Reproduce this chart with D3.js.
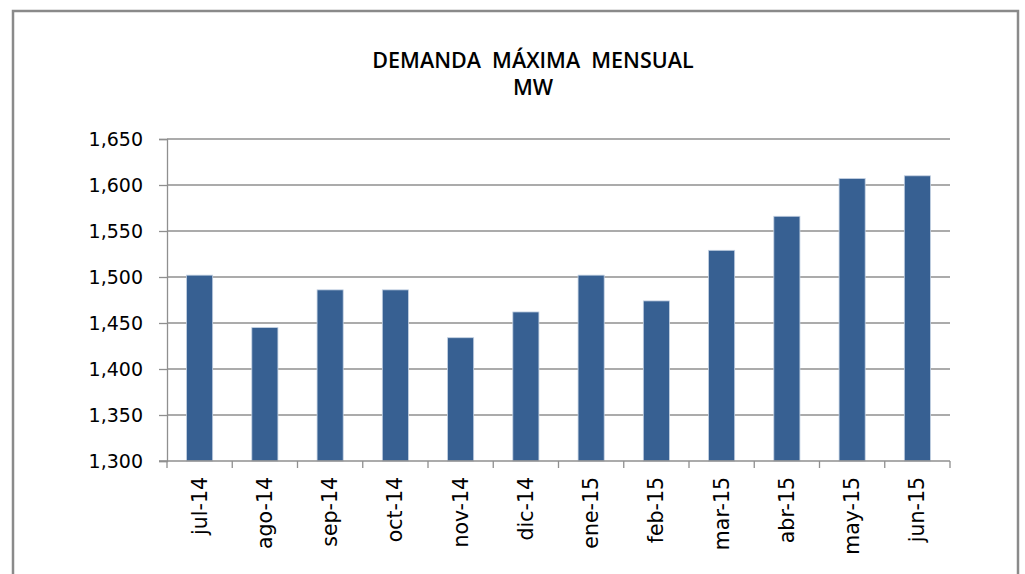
<!DOCTYPE html>
<html>
<head>
<meta charset="utf-8">
<script src="https://cdn.jsdelivr.net/npm/d3@7"></script>
<style>
  body { margin: 0; background: #fff; }
  svg { display: block; }
</style>
</head>
<body>
<svg></svg>
<script>
const months = ["jul-14", "ago-14", "sep-14", "oct-14", "nov-14", "dic-14",
  "ene-15", "feb-15", "mar-15", "abr-15", "may-15", "jun-15"];
const demand = [1502, 1445, 1486, 1486, 1434, 1462, 1502, 1474, 1529, 1566, 1607, 1610];
const yTicks = [1300, 1350, 1400, 1450, 1500, 1550, 1600, 1650];
const titleLines = ["DEMANDA  MÁXIMA  MENSUAL", "MW"];

const W = 1025, H = 574;
const margin = { top: 139, right: 75, bottom: 113, left: 167 };
const width = W - margin.left - margin.right;
const height = H - margin.top - margin.bottom;

const svg = d3.select("svg")
  .attr("width", W)
  .attr("height", H);

// chart frame (no bottom edge visible)
svg.append("path")
  .attr("d", `M13,${H} V11 H1018 V${H}`)
  .attr("fill", "none")
  .attr("stroke", "#8a8a8a")
  .attr("stroke-width", 2.5);

// title
svg.append("g")
  .selectAll("text")
  .data(titleLines)
  .join("text")
  .attr("x", 533)
  .attr("y", (d, i) => 68 + i * 27)
  .attr("text-anchor", "middle")
  .attr("font-family", "'Open Sans', sans-serif")
  .attr("font-weight", 600)
  .attr("font-size", 21.5)
  .attr("fill", "#000")
  .style("white-space", "pre")
  .text(d => d);

const g = svg.append("g")
  .attr("transform", `translate(${margin.left},${margin.top})`);

const x = d3.scaleBand()
  .domain(months)
  .range([0, width])
  .paddingInner(0.6)
  .paddingOuter(0.3);

const y = d3.scaleLinear()
  .domain([1300, 1650])
  .range([height, 0]);

// gridlines
g.append("g")
  .selectAll("line")
  .data(yTicks.slice(1))
  .join("line")
  .attr("x1", 0)
  .attr("x2", width)
  .attr("y1", d => y(d))
  .attr("y2", d => y(d))
  .attr("stroke", "#8f8f8f")
  .attr("stroke-width", 1.3);

// bars
g.append("g")
  .selectAll("rect")
  .data(months)
  .join("rect")
  .attr("x", d => x(d))
  .attr("width", x.bandwidth())
  .attr("y", (d, i) => y(demand[i]))
  .attr("height", (d, i) => height - y(demand[i]))
  .attr("fill", "#376092")
  .attr("stroke", "#c3d0e2")
  .attr("stroke-width", 0.8);

// y axis
const yAxis = g.append("g")
  .call(d3.axisLeft(y).tickValues(yTicks).tickSize(8).tickPadding(16)
    .tickFormat(d3.format(",")));
yAxis.select(".domain").attr("stroke", "#8f8f8f").attr("stroke-width", 1.3);
yAxis.selectAll(".tick line").attr("stroke", "#8f8f8f").attr("stroke-width", 1.3);
yAxis.selectAll("text")
  .attr("font-family", "'DejaVu Sans', Verdana, sans-serif")
  .attr("font-size", 19)
  .attr("fill", "#000");

// x axis: ticks at category boundaries
const xAxis = g.append("g")
  .attr("transform", `translate(0,${height})`);
xAxis.append("line")
  .attr("x1", -8)
  .attr("x2", width)
  .attr("stroke", "#8f8f8f")
  .attr("stroke-width", 1.3);
xAxis.selectAll(".bnd")
  .data(d3.range(months.length + 1))
  .join("line")
  .attr("class", "bnd")
  .attr("x1", i => i * x.step())
  .attr("x2", i => i * x.step())
  .attr("y1", 0)
  .attr("y2", 7)
  .attr("stroke", "#8f8f8f")
  .attr("stroke-width", 1.3);
xAxis.selectAll(".lbl")
  .data(months)
  .join("text")
  .attr("class", "lbl")
  .attr("transform", d => `translate(${x(d) + x.bandwidth() / 2 + 7},16) rotate(-90)`)
  .attr("text-anchor", "end")
  .attr("font-family", "'DejaVu Sans', Verdana, sans-serif")
  .attr("font-size", 20.5)
  .attr("fill", "#000")
  .text(d => d);
</script>
</body>
</html>
